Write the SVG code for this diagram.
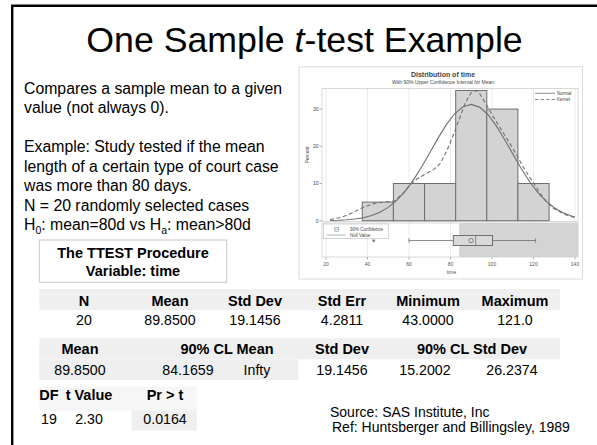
<svg xmlns="http://www.w3.org/2000/svg" width="597" height="445" viewBox="0 0 597 445">
<style>
  .body{font-family:"Liberation Sans",Arial,sans-serif;font-size:15.8px;fill:#000}
  .tb{font-family:"Liberation Sans",Arial,sans-serif;font-size:14.2px;fill:#000;text-anchor:middle}
  .tbb{font-family:"Liberation Sans",Arial,sans-serif;font-size:14.5px;font-weight:bold;fill:#000;text-anchor:middle}
  .src{font-family:"Liberation Sans",Arial,sans-serif;font-size:14px;fill:#000}
  .band{fill:#efefef}
  .ch{font-family:"Liberation Sans",Arial,sans-serif;fill:#444}
  .tick{font-family:"Liberation Sans",Arial,sans-serif;font-size:5px;fill:#555;text-anchor:middle}
  .grid{stroke:#e4e4e4;stroke-width:0.8}
  .bar{fill:#d3d3d3;stroke:#6e6e6e;stroke-width:1}
  .crv{fill:none;stroke:#707070;stroke-width:1.1}
</style>
<rect width="597" height="445" fill="#fff"/>
<!-- slide border -->
<path d="M12.2,445 V5.8 H597" fill="none" stroke="#000" stroke-width="2.4"/>

<g id="title">
  <text x="304.5" y="52" text-anchor="middle" font-family="'Liberation Sans',Arial,sans-serif" font-size="35.7" fill="#000">One Sample <tspan font-style="italic">t</tspan>-test Example</text>
</g>

<g id="description">
  <text class="body" x="24" y="94">Compares a sample mean to a given</text>
  <text class="body" x="24" y="113">value (not always 0).</text>
  <text class="body" x="24" y="152">Example: Study tested if the mean</text>
  <text class="body" x="24" y="171.5">length of a certain type of court case</text>
  <text class="body" x="24" y="191">was more than 80 days.</text>
  <text class="body" x="24" y="210.5">N = 20 randomly selected cases</text>
  <text class="body" x="24" y="230">H<tspan font-size="10.5" dy="3.5">0</tspan><tspan dy="-3.5">: mean=80d vs H</tspan><tspan font-size="10.5" dy="3.5">a</tspan><tspan dy="-3.5">: mean&gt;80d</tspan></text>
</g>

<g id="ttest-box">
  <rect x="39.3" y="240" width="187.4" height="42.3" fill="#fff" stroke="#c8c8c8" stroke-width="1"/>
  <text class="tbb" x="133" y="258">The TTEST Procedure</text>
  <text class="tbb" x="133" y="276">Variable: time</text>
</g>

<g id="chart">
  <rect x="299" y="66.8" width="283.5" height="212.2" fill="#fff" stroke="#dcdcdc" stroke-width="1"/>
  <text class="ch" x="443" y="77" text-anchor="middle" font-size="7" font-weight="bold">Distribution of time</text>
  <text class="ch" x="443" y="84" text-anchor="middle" font-size="5">With 90% Upper Confidence Interval for Mean</text>
  <!-- gridlines -->
  <g class="grid">
    <line x1="326" y1="88.5" x2="326" y2="257"/>
    <line x1="367.5" y1="88.5" x2="367.5" y2="257"/>
    <line x1="409" y1="88.5" x2="409" y2="257"/>
    <line x1="450.5" y1="88.5" x2="450.5" y2="257"/>
    <line x1="492" y1="88.5" x2="492" y2="257"/>
    <line x1="533.5" y1="88.5" x2="533.5" y2="257"/>
    <line x1="575" y1="88.5" x2="575" y2="257"/>
  </g>
  <!-- histogram panel frame -->
  <rect x="322" y="88.5" width="256" height="133" fill="none" stroke="#cfcfcf" stroke-width="0.8"/>
  <!-- y axis ticks -->
  <g stroke="#888" stroke-width="0.6">
    <line x1="319.5" y1="220.7" x2="322" y2="220.7"/>
    <line x1="319.5" y1="183.5" x2="322" y2="183.5"/>
    <line x1="319.5" y1="146.3" x2="322" y2="146.3"/>
    <line x1="319.5" y1="109.1" x2="322" y2="109.1"/>
  </g>
  <g class="ch" font-size="5" text-anchor="end">
    <text x="318.5" y="222.5">0</text>
    <text x="318.5" y="185.3">10</text>
    <text x="318.5" y="148.1">20</text>
    <text x="318.5" y="110.9">30</text>
  </g>
  <text class="ch" font-size="5" text-anchor="middle" transform="translate(308.5,155) rotate(-90)">Percent</text>
  <!-- bars -->
  <g class="bar">
    <rect x="362.3" y="202.1" width="31.1" height="18.6"/>
    <rect x="393.4" y="183.5" width="31.2" height="37.2"/>
    <rect x="424.6" y="183.5" width="31.1" height="37.2"/>
    <rect x="455.7" y="90.5" width="31.1" height="130.2"/>
    <rect x="486.8" y="109.1" width="31.1" height="111.6"/>
    <rect x="517.9" y="183.5" width="31.2" height="37.2"/>
  </g>
  <!-- normal curve -->
  <polyline class="crv" points="330.15,220.48 338.45,220.25 346.75,219.82 355.05,219.05 363.35,217.73 371.65,215.58 379.95,212.26 388.25,207.37 396.55,200.56 404.85,191.55 413.15,180.33 421.45,167.18 429.75,152.76 438.05,138.15 446.35,124.68 454.65,113.79 462.95,106.74 471.25,104.41 479.55,107.11 487.85,114.49 496.15,125.62 504.45,139.22 512.75,153.86 521.05,168.21 529.35,181.25 537.65,192.31 545.95,201.14 554.25,207.8 562.55,212.56 570.85,215.78 575,216.94"/>
  <!-- kernel curve -->
  <polyline class="crv" stroke-dasharray="4 2.5" points="330.15,219.58 342.6,216.98 352.98,212.52 363.35,207.31 373.73,203.59 384.1,202.1 394.48,200.98 402.78,193.54 409,186.1 417.3,178.66 425.6,173.83 433.9,169.36 440.13,163.78 446.35,151.88 452.58,136.97 458.8,120.26 465.03,103.52 471.25,92.36 475.4,90.5 479.55,93.48 485.78,103.52 492,114.68 502.38,131.42 512.75,148.16 523.13,166.76 531.43,179.78 539.73,192.8 546.78,202.1 554.25,208.8 564.63,214.38 575,217.72"/>
  <!-- legend -->
  <g stroke="#707070" stroke-width="0.8">
    <line x1="535" y1="93.3" x2="555" y2="93.3"/>
    <line x1="535" y1="99.5" x2="555" y2="99.5" stroke-dasharray="3.5 2"/>
  </g>
  <g class="ch" font-size="4.5">
    <text x="557" y="95">Normal</text>
    <text x="557" y="101.2">Kernel</text>
  </g>
  <!-- box plot panel -->
  <rect x="459.2" y="223" width="118.8" height="34" fill="#d4d4d4"/>
  <rect x="322" y="223" width="256" height="34" fill="none" stroke="#cfcfcf" stroke-width="0.8"/>
  <rect x="323.3" y="224" width="65" height="14.3" fill="#fff" stroke="#b8b8b8" stroke-width="0.6"/>
  <rect x="334.8" y="227.4" width="3.8" height="3.8" fill="none" stroke="#777" stroke-width="0.5"/>
  <line x1="334.8" y1="229.3" x2="338.6" y2="229.3" stroke="#777" stroke-width="0.5"/>
  <line x1="326.5" y1="235" x2="346" y2="235" stroke="#888" stroke-width="0.6"/>
  <g class="ch" font-size="4.5">
    <text x="350" y="230.8">90% Confidence</text>
    <text x="350" y="236.6">Null Value</text>
  </g>
  <!-- outlier -->
  <g stroke="#555" stroke-width="0.6">
    <line x1="372.2" y1="240.7" x2="375.2" y2="240.7"/>
    <line x1="373.7" y1="239.2" x2="373.7" y2="242.2"/>
    <line x1="372.6" y1="239.6" x2="374.8" y2="241.8"/>
    <line x1="372.6" y1="241.8" x2="374.8" y2="239.6"/>
  </g>
  <!-- whiskers and box -->
  <g stroke="#707070" stroke-width="0.8" fill="none">
    <line x1="409" y1="240.5" x2="453.3" y2="240.5"/>
    <line x1="409" y1="238.3" x2="409" y2="242.7"/>
    <line x1="492.5" y1="240.5" x2="535.6" y2="240.5"/>
    <line x1="535.6" y1="238.3" x2="535.6" y2="242.7"/>
    <rect x="453.3" y="235.5" width="39.2" height="10" fill="#d9d9d9" stroke-width="1"/>
    <line x1="475.7" y1="235.5" x2="475.7" y2="245.5"/>
    <circle cx="471" cy="240.5" r="2.2"/>
  </g>
  <!-- x axis -->
  <g stroke="#888" stroke-width="0.6">
    <line x1="326" y1="257" x2="326" y2="259.5"/>
    <line x1="367.5" y1="257" x2="367.5" y2="259.5"/>
    <line x1="409" y1="257" x2="409" y2="259.5"/>
    <line x1="450.5" y1="257" x2="450.5" y2="259.5"/>
    <line x1="492" y1="257" x2="492" y2="259.5"/>
    <line x1="533.5" y1="257" x2="533.5" y2="259.5"/>
    <line x1="575" y1="257" x2="575" y2="259.5"/>
  </g>
  <g class="tick">
    <text x="326" y="266">20</text>
    <text x="367.5" y="266">40</text>
    <text x="409" y="266">60</text>
    <text x="450.5" y="266">80</text>
    <text x="492" y="266">100</text>
    <text x="533.5" y="266">120</text>
    <text x="575" y="266">140</text>
    <text x="451.5" y="273.5">time</text>
  </g>
</g>

<g id="table-summary">
  <rect class="band" x="39.3" y="289" width="520.7" height="21"/>
  <text class="tbb" x="84" y="305.5">N</text>
  <text class="tbb" x="170" y="305.5">Mean</text>
  <text class="tbb" x="255" y="305.5">Std Dev</text>
  <text class="tbb" x="342" y="305.5">Std Err</text>
  <text class="tbb" x="428" y="305.5">Minimum</text>
  <text class="tbb" x="515" y="305.5">Maximum</text>
  <text class="tb" x="84" y="325">20</text>
  <text class="tb" x="170" y="325">89.8500</text>
  <text class="tb" x="255" y="325">19.1456</text>
  <text class="tb" x="342" y="325">4.2811</text>
  <text class="tb" x="428" y="325">43.0000</text>
  <text class="tb" x="515" y="325">121.0</text>
</g>

<g id="table-cl">
  <rect class="band" x="39.3" y="338.3" width="520.7" height="21"/>
  <rect class="band" x="39.3" y="359.3" width="259" height="20.7"/>
  <text class="tbb" x="80" y="354">Mean</text>
  <text class="tbb" x="227" y="354">90% CL Mean</text>
  <text class="tbb" x="342" y="354">Std Dev</text>
  <text class="tbb" x="472" y="354">90% CL Std Dev</text>
  <text class="tb" x="80" y="375">89.8500</text>
  <text class="tb" x="188" y="375">84.1659</text>
  <text class="tb" x="257" y="375">Infty</text>
  <text class="tb" x="342" y="375">19.1456</text>
  <text class="tb" x="425" y="375">15.2002</text>
  <text class="tb" x="512" y="375">26.2374</text>
</g>

<g id="table-t">
  <rect x="39.3" y="386.7" width="157.4" height="24" fill="#f6f6f6"/>
  <rect class="band" x="131.7" y="410.7" width="65" height="20"/>
  <text class="tbb" x="49" y="399.5">DF</text>
  <text class="tbb" x="89" y="399.5">t Value</text>
  <text class="tbb" x="165" y="399.5">Pr &gt; t</text>
  <text class="tb" x="49" y="424">19</text>
  <text class="tb" x="89" y="424">2.30</text>
  <text class="tb" x="165" y="424">0.0164</text>
</g>

<g id="source">
  <text class="src" x="330" y="417">Source: SAS Institute, Inc</text>
  <text class="src" x="332" y="431.5">Ref: Huntsberger and Billingsley, 1989</text>
</g>
</svg>
